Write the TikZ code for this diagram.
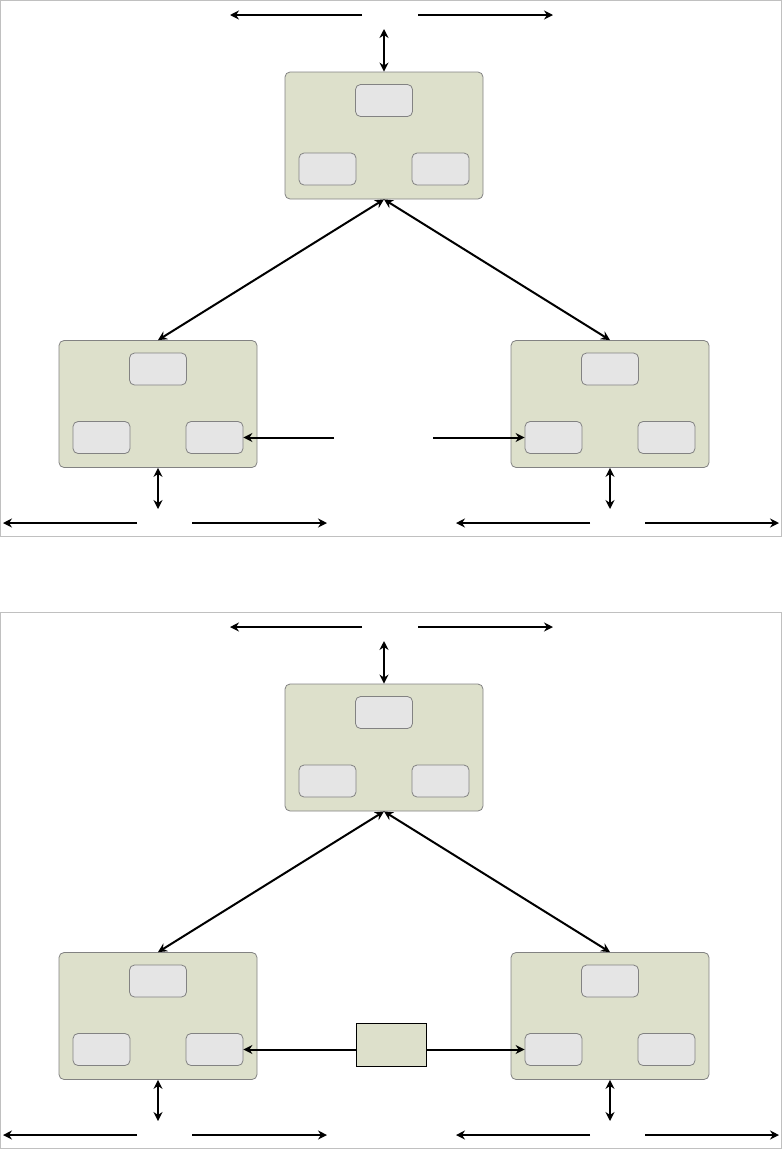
\documentclass[tikz,border=0pt]{standalone}
\usetikzlibrary{arrows.meta,calc}
\definecolor{boxgreen}{RGB}{221,224,203}
\definecolor{cellgray}{RGB}{229,229,229}
\definecolor{framegray}{RGB}{192,192,192}
\definecolor{edgegray}{RGB}{130,130,130}
\begin{document}
\begin{tikzpicture}[x=1pt,y=-1pt,
 site/.style={draw=edgegray,fill=boxgreen,rounded corners=5pt,minimum width=198pt,minimum height=127pt,inner sep=0pt,line width=.8pt},
 cell/.style={draw=edgegray,fill=cellgray,rounded corners=5pt,minimum width=57pt,minimum height=32pt,inner sep=0pt,line width=.8pt},
 link/.style={line width=2pt,{Stealth[length=9pt,width=9pt]}-{Stealth[length=9pt,width=9pt]}},
 feed/.style={line width=2pt,-{Stealth[length=9pt,width=9pt]}}]
 \useasboundingbox (0,0) rectangle (782,1149);
 \foreach \p/\oy in {a/0,b/612}{
  % frame
  \draw[framegray] (0.5,0.5+\oy) rectangle (781.5,536+\oy);
  % three sites
  \node[site] (top\p) at (384,135.5+\oy) {};
  \node[site] (left\p) at (158,404+\oy) {};
  \node[site] (right\p) at (610,404+\oy) {};
  \foreach \s in {top,left,right}{
   \node[cell] (\s\p c) at ($(\s\p)+(0,-35)$) {};
   \node[cell] (\s\p l) at ($(\s\p)+(-56.5,33.5)$) {};
   \node[cell] (\s\p r) at ($(\s\p)+(56.5,33.5)$) {};
  }
  % top
  \coordinate (ta\p) at (362,15+\oy); \coordinate (tb\p) at (230,15+\oy);
  \coordinate (tc\p) at (418,15+\oy); \coordinate (td\p) at (553,15+\oy);
  \coordinate (up\p) at (384,29+\oy);
  \draw[feed] (ta\p) -- (tb\p);
  \draw[feed] (tc\p) -- (td\p);
  \draw[link] (up\p) -- (top\p.north);
  \draw[link] (top\p.south) -- (left\p.north);
  \draw[link] (top\p.south) -- (right\p.north);
  % bottom
  \coordinate (dl\p) at (158,509+\oy); \coordinate (dr\p) at (610,509+\oy);
  \draw[link] (left\p.south) -- (dl\p);
  \draw[link] (right\p.south) -- (dr\p);
  \coordinate (ba\p) at (137,523+\oy); \coordinate (bb\p) at (3,523+\oy);
  \coordinate (bc\p) at (192,523+\oy); \coordinate (bd\p) at (327,523+\oy);
  \coordinate (be\p) at (590,523+\oy); \coordinate (bf\p) at (456,523+\oy);
  \coordinate (bg\p) at (645,523+\oy); \coordinate (bh\p) at (779,523+\oy);
  \draw[feed] (ba\p) -- (bb\p);
  \draw[feed] (bc\p) -- (bd\p);
  \draw[feed] (be\p) -- (bf\p);
  \draw[feed] (bg\p) -- (bh\p);
 }
 % middle, first panel
 \coordinate (ma) at (334,437.5); \coordinate (mb) at (433,437.5);
 \draw[feed] (ma) -- (leftar.east);
 \draw[feed] (mb) -- (rightal.west);
 % middle, second panel
 \node[draw,fill=boxgreen,minimum width=70pt,minimum height=43pt,inner sep=0pt,line width=.8pt] (mid) at (391,1044.5) {};
 \draw[feed] (mid.west |- leftbr.east) -- (leftbr.east);
 \draw[feed] (mid.east |- rightbl.west) -- (rightbl.west);
\end{tikzpicture}
\end{document}
